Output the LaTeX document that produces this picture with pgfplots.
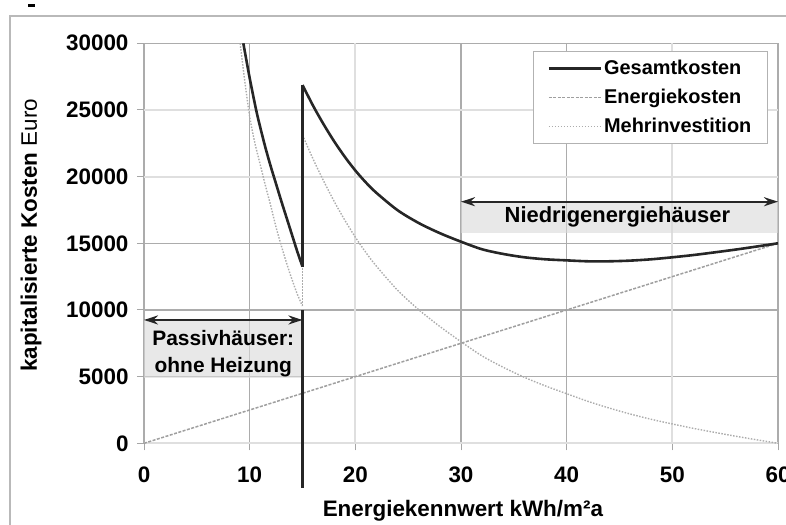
\documentclass[border=0pt]{standalone}
\usepackage{pgfplots}
\pgfplotsset{compat=1.18}
\usepackage{fontspec}
\setmainfont{Liberation Sans}
\usetikzlibrary{arrows.meta}

\pgfplotstableread{
x y
0 0
60 15000
}\energie

\pgfplotstableread{
x y
9.1 30000
9.5 27400
10 24500
10.5 22500
11 20900
11.5 19300
12 17800
12.5 16200
13 14800
13.5 13500
14 12300
14.5 11200
15 10300
}\mehrL

\pgfplotstableread{
x y
15 10300
15 23120
}\mehrV

\pgfplotstableread{
x y
15 23120
16 21320
17 19670
18 18140
19 16740
20 15460
21 14310
22 13280
24 11480
26 10020
28 8760
30 7620
32 6550
34 5700
36 4950
38 4300
40 3720
42 3150
44 2650
46 2200
48 1800
50 1450
52 1120
54 820
56 530
58 260
60 0
}\mehrR

\pgfplotstableread{
x y
9.4 30000
10 27400
10.6 25050
11 23700
11.5 22150
12 20750
12.5 19450
13 18150
13.5 16900
14 15650
14.5 14400
15 13250
}\gesamtL

\pgfplotstableread{
x y
15 13250
15 26870
}\gesamtV

\pgfplotstableread{
x y
15 26870
16 25320
17 23920
18 22640
19 21490
20 20460
21 19560
22 18780
24 17480
26 16520
28 15760
30 15120
32 14550
34 14200
36 13950
38 13800
40 13720
42 13650
44 13650
46 13700
48 13800
50 13950
52 14120
54 14320
56 14530
58 14760
60 15000
}\gesamtR

\begin{document}
\begin{tikzpicture}
\path[use as bounding box] (0,0) rectangle (786bp,525bp);
\draw[gray!55, line width=1.5bp] (10bp,0) -- (10bp,509bp) -- (786bp,509bp);
\fill[black] (28bp,518bp) rectangle (35bp,521bp);
\begin{axis}[
  at={(144bp,81.7bp)}, anchor=origin,
  scale only axis, width=634bp, height=400bp,
  xmin=0, xmax=60, ymin=0, ymax=30000,
  clip=false,
  axis line style={draw=none},
  xtick={0,10,30,40,60}, extra x ticks={20,50},
  ytick={5000,10000,15000,30000}, extra y ticks={0,20000,25000},
  grid=major,
  grid style={gray!65, line width=1.3bp},
  extra x tick style={grid style={gray!25, line width=1.8bp}},
  extra y tick style={grid style={gray!25, line width=1.8bp}},
  tick align=outside, major tick length=7bp,
  tick style={gray!70, line width=1bp},
  xtick pos=left, ytick pos=left,
  scaled y ticks=false,
  /pgf/number format/assume math mode=true,
  /pgf/number format/1000 sep={},
  ticklabel style={font=\fontsize{22.5}{26}\selectfont\bfseries},
  xticklabel style={yshift=-13bp},
  yticklabel style={xshift=-5bp},
  label style={font=\fontsize{22.5}{26}\selectfont\bfseries},
  xlabel={Energiekennwert kWh/m²a},
  ylabel={kapitalisierte Kosten {\mdseries Euro}},
  xlabel style={at={(axis description cs:0.503,-0.168)}, anchor=center},
  ylabel style={at={(axis description cs:-0.178,0.52)}, anchor=center},
  legend style={at={(0.984,0.981)}, anchor=north east, draw=gray!60,
    line width=1bp, fill=white, font=\fontsize{20}{24}\selectfont\bfseries,
    inner xsep=14bp, inner ysep=7bp, row sep=9bp,
    nodes={inner sep=2bp}},
  legend cell align=left,
  legend image code/.code={\draw[#1] (0bp,0bp) -- (52bp,0bp);},
]
\addlegendimage{black!85, line width=2.6bp}
\addlegendentry{Gesamtkosten}
\addlegendimage{gray!75, line width=1.5bp, dash pattern=on 3bp off 1.5bp}
\addlegendentry{Energiekosten}
\addlegendimage{gray!65, line width=1.4bp, dash pattern=on 1.5bp off 1.5bp}
\addlegendentry{Mehrinvestition}

\fill[gray!30, fill opacity=0.6] (axis cs:30,15750) rectangle (axis cs:60,18120);
\fill[gray!30, fill opacity=0.6] (axis cs:0,4900) rectangle (axis cs:15,9250);

\addplot[forget plot, gray!75, line width=1.5bp, dash pattern=on 3bp off 1.5bp] table {\energie};
\addplot[forget plot, gray!65, line width=1.4bp, dash pattern=on 1.5bp off 1.5bp, smooth] table {\mehrL};
\addplot[forget plot, gray!65, line width=1.4bp, dash pattern=on 1.5bp off 1.5bp] table {\mehrV};
\addplot[forget plot, gray!65, line width=1.4bp, dash pattern=on 1.5bp off 1.5bp, smooth] table {\mehrR};
\addplot[forget plot, black!85, line width=2.6bp, smooth] table {\gesamtL};
\addplot[forget plot, black!85, line width=2.6bp] table {\gesamtV};
\addplot[forget plot, black!85, line width=2.6bp, smooth] table {\gesamtR};

\draw[black!85, line width=2.2bp] (axis cs:15,10000) -- (axis cs:15,-3350);
\draw[black!85, line width=2.2bp, {Stealth[length=14bp,width=9bp]}-{Stealth[length=14bp,width=9bp]}] (axis cs:30,18120) -- (axis cs:60,18120);
\draw[black!85, line width=2.2bp, {Stealth[length=14bp,width=9bp]}-{Stealth[length=14bp,width=9bp]}] (axis cs:0,9250) -- (axis cs:15,9250);
\node[font=\fontsize{22}{26}\selectfont\bfseries] at (axis cs:44.8,16970) {Niedrigenergiehäuser};
\node[font=\fontsize{21}{27}\selectfont\bfseries, align=center] at (axis cs:7.5,6740) {Passivhäuser:\\ohne Heizung};
\end{axis}
\end{tikzpicture}
\end{document}
